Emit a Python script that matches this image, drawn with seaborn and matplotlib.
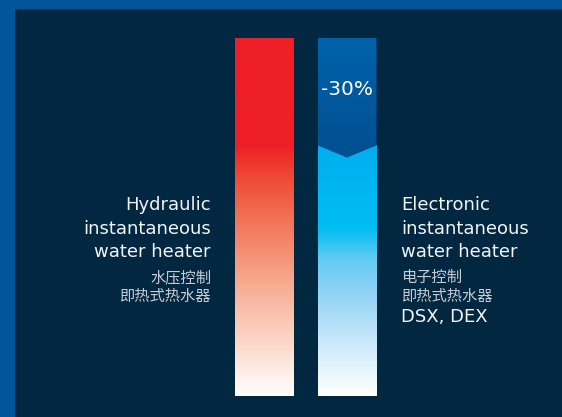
import matplotlib
matplotlib.use("Agg")
import matplotlib.pyplot as plt
import seaborn as sns
import pandas as pd
import numpy as np
from matplotlib.colors import LinearSegmentedColormap
from matplotlib.patches import Polygon, Rectangle

# data
categories = ["Hydraulic", "Electronic"]
consumption = [100, 70]          # relative energy use
savings = [0, 30]                # shown as "-30%" on top of the electronic bar
left_lines = ["Hydraulic", "instantaneous", "water heater"]
left_lines_cn = ["水压控制", "即热式热水器"]
right_lines = ["Electronic", "instantaneous", "water heater"]
right_lines_cn = ["电子控制", "即热式热水器"]
right_extra = "DSX, DEX"

NAVY = "#012741"
BORDER = "#03559a"

sns.set_theme(style="white")
plt.rcParams["font.family"] = ["DejaVu Sans", "Noto Sans CJK SC"]

W, H = 562, 417
fig = plt.figure(figsize=(W / 100, H / 100), dpi=100, facecolor=NAVY)

# frame bands (top and left)
fig.patches.append(Rectangle((0, 1 - 8 / H), 1, 8 / H, transform=fig.transFigure,
                             color=BORDER, zorder=0))
fig.patches.append(Rectangle((0, 0), 14 / W, 1, transform=fig.transFigure,
                             color=BORDER, zorder=0))

# axes placed so the bars land where they are in the reference
ax = fig.add_axes([223.25 / W, 21 / H, 165 / W, 358 / H])
ax.set_facecolor("none")

df = pd.DataFrame({"type": categories, "consumption": consumption})
sns.barplot(data=df, x="type", y="consumption", width=0.715, ax=ax,
            color="white", saturation=1, errorbar=None)
bars = list(ax.patches)

red_cmap = LinearSegmentedColormap.from_list("red", [
    (0.0, "#ffffff"), (0.13, "#fddccf"), (0.32, "#f7a98e"),
    (0.52, "#f26a4e"), (0.61, "#ef4a35"), (0.70, "#ee1f26"), (1.0, "#ee1f26")])
cyan_cmap = LinearSegmentedColormap.from_list("cyan", [
    (0.0, "#ffffff"), (0.19, "#d0ebfb"), (0.38, "#9ad6f6"),
    (0.54, "#66cbf4"), (0.67, "#00bdf2"), (1.0, "#00aeef")])
dark_cmap = LinearSegmentedColormap.from_list("dark", ["#004f90", "#0062ab"])

grad = np.linspace(0, 1, 256).reshape(-1, 1)


def fill_gradient(patch, cmap, y0, y1):
    x0 = patch.get_x()
    x1 = x0 + patch.get_width()
    im = ax.imshow(grad, cmap=cmap, origin="lower", aspect="auto",
                   extent=(x0, x1, y0, y1), zorder=2, interpolation="bicubic")
    im.set_clip_path(patch)
    patch.set_facecolor("none")
    patch.set_edgecolor("none")


fill_gradient(bars[0], red_cmap, 0, consumption[0])
fill_gradient(bars[1], cyan_cmap, 0, consumption[1])

# savings block with a downward notch
b = bars[1]
x0, w = b.get_x(), b.get_width()
base, top = consumption[1], consumption[1] + savings[1]
notch = 3.4
poly = Polygon([(x0, top), (x0 + w, top), (x0 + w, base),
                (x0 + w / 2, base - notch), (x0, base)],
               closed=True, facecolor="none", edgecolor="none")
ax.add_patch(poly)
im = ax.imshow(grad, cmap=dark_cmap, origin="lower", aspect="auto",
               extent=(x0, x0 + w, base - notch, top), zorder=3)
im.set_clip_path(poly)
ax.text(x0 + w / 2, base + savings[1] / 2 + 0.5, f"-{savings[1]}%", color="white",
        fontsize=14.5, ha="center", va="center", zorder=4)

ax.set_xlim(-0.5, 1.5)
ax.set_ylim(0, 100)
ax.axis("off")

# side labels (figure pixel positions)
en_kw = dict(fontsize=13, color="#f2f4f6", va="baseline")
cn_kw = dict(fontsize=11, color="#c6ccd4", va="baseline",
             family=["Noto Sans CJK SC", "DejaVu Sans"])
en_base = [210, 234, 257]
cn_base = [282, 301]

for txt, y in zip(left_lines, en_base):
    fig.text(211 / W, 1 - y / H, txt, ha="right", **en_kw)
for txt, y in zip(left_lines_cn, cn_base):
    fig.text(211 / W, 1 - y / H, txt, ha="right", **cn_kw)
for txt, y in zip(right_lines, en_base):
    fig.text(401 / W, 1 - y / H, txt, ha="left", **en_kw)
for txt, y in zip(right_lines_cn, cn_base):
    fig.text(401 / W, 1 - y / H, txt, ha="left", **cn_kw)
fig.text(401 / W, 1 - 322 / H, right_extra, ha="left", **en_kw)

fig.savefig("out.png", dpi=100, facecolor=NAVY)
